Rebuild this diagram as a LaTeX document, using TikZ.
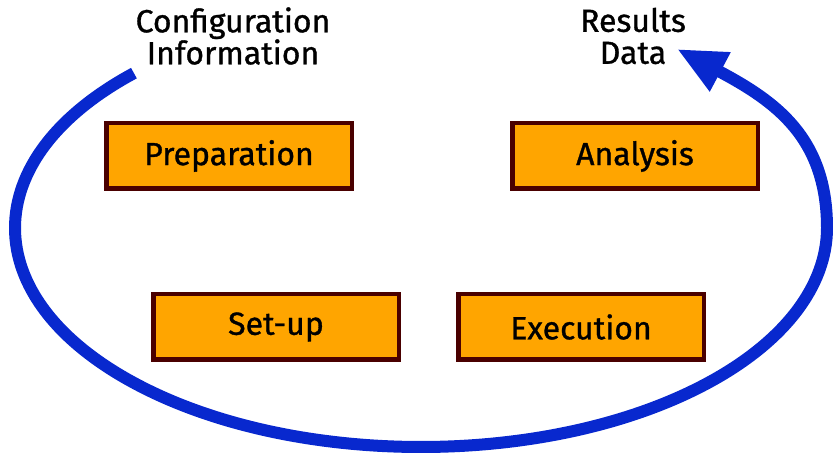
\documentclass[tikz,border=0pt]{standalone}
\usepackage{fontspec}
\setmainfont{Fira Sans}[FakeBold=1]
\usetikzlibrary{arrows.meta,calc}
\definecolor{boxfill}{RGB}{255,165,0}
\definecolor{boxline}{RGB}{74,0,0}
\definecolor{loopblue}{RGB}{8,40,206}
\tikzset{
  stagebox/.style={draw=boxline, fill=boxfill, line width=4.5pt,
    minimum width=245.5pt, minimum height=65.5pt, inner sep=0pt,
    font=\fontsize{32pt}{32pt}\selectfont},
  labeltext/.style={align=center, inner sep=0pt,
    font=\fontsize{32pt}{32pt}\selectfont},
  loop/.style={draw=loopblue, line width=12pt,
    -{Triangle[length=49pt, width=41pt]}}
}
\begin{document}
\begin{tikzpicture}[x=1pt, y=1pt]
\useasboundingbox (0,0) rectangle (833,457);
\node[stagebox] (prep) at (229,301) {Preparation};
\node[stagebox] (anal) at (635,301) {Analysis};
\node[stagebox] (setup) at (276,130) {Set-up};
\node[stagebox] (exec) at (581,130) {Execution};
\node[labeltext] (conf) at (233,421) {Configuration\\Information};
\node[labeltext] (res) at (633,421) {Results\\Data};
\coordinate (start) at ($(421,229)+(135:406 and 219)$);
\coordinate (tip) at (677,408);
\draw[loop] (start) arc[start angle=135, end angle=360, x radius=406, y radius=219]
  .. controls (827,320) and (775,356) .. (tip);
\end{tikzpicture}
\end{document}
